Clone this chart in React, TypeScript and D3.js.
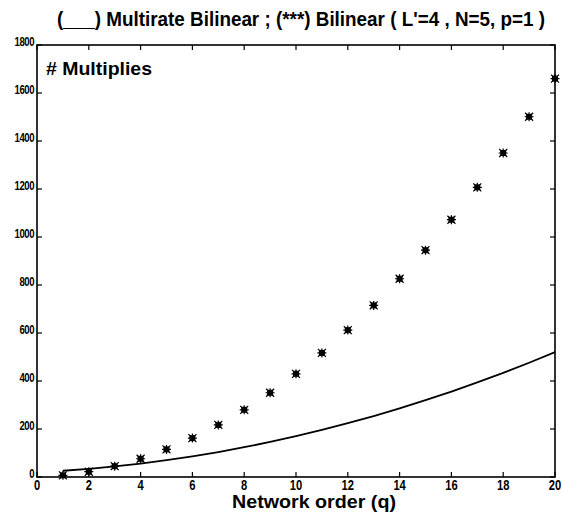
import * as d3 from "d3";
import { useEffect, useRef } from "react";

// network order q
const orders = [1, 2, 3, 4, 5, 6, 7, 8, 9, 10, 11, 12, 13, 14, 15, 16, 17, 18, 19, 20];
// (***) Bilinear multiplies
const bilinear = [7, 22, 45, 76, 115, 162, 217, 280, 351, 430, 517, 612, 715, 826, 945, 1072, 1207, 1350, 1501, 1660];
// (___) Multirate Bilinear multiplies
const multirate = [26, 34, 44, 56, 70, 86, 104, 124, 146, 170, 196, 224, 254, 286, 320, 356, 394, 434, 476, 520];

const xTicks = [0, 2, 4, 6, 8, 10, 12, 14, 16, 18, 20];
const yTicks = [0, 200, 400, 600, 800, 1000, 1200, 1400, 1600, 1800];

const FONT = "'Liberation Sans Narrow', 'Arial Narrow', 'Liberation Sans', Arial, sans-serif";

const Chart = () => {
  const ref = useRef<SVGSVGElement>(null);

  useEffect(() => {
    const width = 562,
      height = 518;
    const margin = { top: 45, right: 7, bottom: 41, left: 37 };

    const root = d3.select(ref.current);
    root.selectAll("*").remove();

    root.append("rect").attr("width", width).attr("height", height).attr("fill", "#fff");

    const x = d3.scaleLinear().domain([0, 20]).range([margin.left, width - margin.right]);
    const y = d3.scaleLinear().domain([0, 1800]).range([height - margin.bottom, margin.top]);

    const g = root.append("g");

    // title
    g.append("text")
      .attr("x", 57)
      .attr("y", 26)
      .attr("font-family", FONT)
      .attr("font-size", 20)
      .attr("font-weight", "bold")
      .attr("textLength", 488)
      .attr("lengthAdjust", "spacingAndGlyphs")
      .text("(___) Multirate Bilinear ; (***) Bilinear ( L'=4 , N=5, p=1 )");

    // multirate line
    const line = d3
      .line<number>()
      .x((d, i) => x(orders[i]))
      .y((d) => y(d));
    g.append("path")
      .datum(multirate)
      .attr("fill", "none")
      .attr("stroke", "#000")
      .attr("stroke-width", 1.8)
      .attr("d", line);

    // bilinear asterisks
    const marks = g
      .selectAll("g.mark")
      .data(bilinear)
      .join("g")
      .attr("class", "mark")
      .attr("transform", (d, i) => `translate(${x(orders[i])},${y(d)})`);
    marks.append("rect").attr("x", -3).attr("y", -3).attr("width", 6).attr("height", 6).attr("fill", "#000");
    marks
      .append("path")
      .attr("d", "M-4,-4L4,4M-4,4L4,-4M0,-4.5L0,4.5M-4.5,0L4.5,0")
      .attr("stroke", "#000")
      .attr("stroke-width", 1.2);

    // box
    const x0 = x(0),
      x1 = x(20),
      y0 = y(0),
      y1 = y(1800);
    g.append("rect")
      .attr("x", x0)
      .attr("y", y1)
      .attr("width", x1 - x0)
      .attr("height", y0 - y1)
      .attr("fill", "none")
      .attr("stroke", "#000")
      .attr("stroke-width", 1.6);

    // inward ticks on all four sides
    const tl = 5;
    g.selectAll("line.xt")
      .data(xTicks)
      .join("line")
      .attr("x1", (d) => x(d))
      .attr("x2", (d) => x(d))
      .attr("y1", y0)
      .attr("y2", y0 - tl)
      .attr("stroke", "#000")
      .attr("stroke-width", 1.2);
    g.selectAll("line.xt2")
      .data(xTicks)
      .join("line")
      .attr("x1", (d) => x(d))
      .attr("x2", (d) => x(d))
      .attr("y1", y1)
      .attr("y2", y1 + tl)
      .attr("stroke", "#000")
      .attr("stroke-width", 1.2);
    g.selectAll("line.yt")
      .data(yTicks)
      .join("line")
      .attr("x1", x0)
      .attr("x2", x0 + tl)
      .attr("y1", (d) => y(d))
      .attr("y2", (d) => y(d))
      .attr("stroke", "#000")
      .attr("stroke-width", 1.2);
    g.selectAll("line.yt2")
      .data(yTicks)
      .join("line")
      .attr("x1", x1)
      .attr("x2", x1 - tl)
      .attr("y1", (d) => y(d))
      .attr("y2", (d) => y(d))
      .attr("stroke", "#000")
      .attr("stroke-width", 1.2);

    // tick labels (condensed look)
    g.selectAll("text.xl")
      .data(xTicks)
      .join("text")
      .attr("transform", (d) => `translate(${x(d)},${y0 + 13}) scale(0.8,1)`)
      .attr("text-anchor", "middle")
      .attr("font-family", FONT)
      .attr("font-size", 14)
      .attr("font-weight", "bold")
      .text((d) => d);
    g.selectAll("text.yl")
      .data(yTicks)
      .join("text")
      .attr("transform", (d) => `translate(${x0 - 3},${y(d) + 1}) scale(0.8,1)`)
      .attr("text-anchor", "end")
      .attr("font-family", FONT)
      .attr("font-size", 12)
      .attr("font-weight", "bold")
      .attr("letter-spacing", -0.6)
      .text((d) => d);

    // axis label and annotation
    g.append("text")
      .attr("x", 232)
      .attr("y", 508)
      .attr("font-family", FONT)
      .attr("font-size", 18)
      .attr("font-weight", "bold")
      .attr("textLength", 164)
      .attr("lengthAdjust", "spacingAndGlyphs")
      .text("Network order  (q)");
    g.append("text")
      .attr("x", 46)
      .attr("y", 75)
      .attr("font-family", FONT)
      .attr("font-size", 19)
      .attr("font-weight", "bold")
      .attr("textLength", 106)
      .attr("lengthAdjust", "spacingAndGlyphs")
      .text("# Multiplies");
  }, []);

  return (
    <svg
      ref={ref}
      width={562}
      height={518}
      style={{ position: "absolute", left: 0, top: 0, display: "block" }}
    />
  );
};

export default function App() {
  return <Chart />;
}
